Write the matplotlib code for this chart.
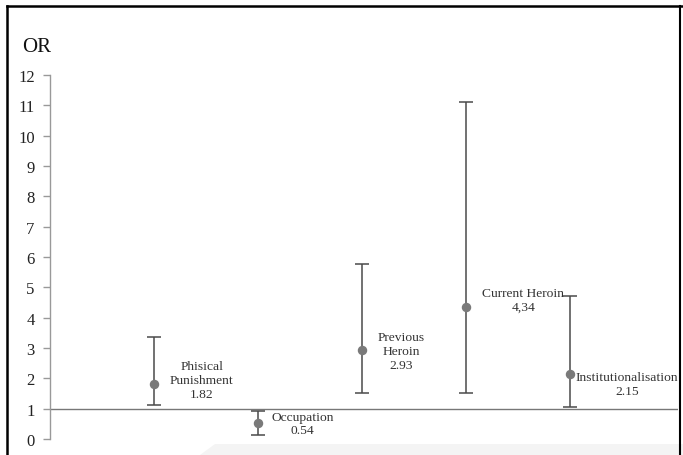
import matplotlib.pyplot as plt
from matplotlib.patches import Polygon

# Odds ratios with 95% CI
factors = ["Phisical\nPunishment", "Occupation", "Previous\nHeroin", "Current Heroin", "Institutionalisation"]
value_labels = ["1.82", "0.54", "2.93", "4,34", "2.15"]
odds = [1.82, 0.54, 2.93, 4.34, 2.15]
ci_low = [1.12, 0.14, 1.53, 1.53, 1.07]
ci_high = [3.36, 0.92, 5.77, 11.12, 4.70]

# label placement (offset from point, data units)
label_dx = [0.46, 0.43, 0.38, 0.55, 0.55]
label_y = [1.95, 0.51, 2.90, 4.59, 1.82]

plt.rcParams['font.family'] = ['Liberation Serif', 'DejaVu Serif']

fig = plt.figure(figsize=(6.83, 4.56), dpi=100)

# page border and greyish bottom strip
fig.patches.append(Polygon([[200 / 683, 0], [1, 0], [1, 11 / 456], [215 / 683, 11 / 456]],
                           closed=True, transform=fig.transFigure, facecolor='#f4f4f4', edgecolor='none'))
fig.lines.append(plt.Line2D([7 / 683, 7 / 683], [0, 449 / 456], transform=fig.transFigure, color='black', lw=1.8))
fig.lines.append(plt.Line2D([7 / 683, 1], [449 / 456, 449 / 456], transform=fig.transFigure, color='black', lw=1.8))
fig.lines.append(plt.Line2D([680 / 683, 680 / 683], [0, 449 / 456], transform=fig.transFigure, color='black', lw=1.5))

ax = fig.add_axes([50 / 683, 16 / 456, 628 / 683, 364 / 456])
ax.patch.set_visible(False)

x = list(range(1, len(odds) + 1))
yerr = [[o - l for o, l in zip(odds, ci_low)], [h - o for o, h in zip(odds, ci_high)]]
ax.errorbar(x, odds, yerr=yerr, fmt='o', color='#7a7a7a', ms=5.8, ecolor='#4a4a4a',
            elinewidth=1.1, capsize=5, capthick=1.1, zorder=3)

for xi, name, vl, dx, ly in zip(x, factors, value_labels, label_dx, label_y):
    ax.text(xi + dx, ly, name + "\n" + vl, ha='center', va='center', fontsize=9.7,
            color='#333333', linespacing=1.2)

ax.axhline(1, color='#777777', lw=1.0, zorder=1)

ax.set_xlim(0, 628 / 104)
ax.set_ylim(0, 12)
ax.set_yticks(range(0, 13))
ax.set_xticks([])
for s in ['top', 'right', 'bottom']:
    ax.spines[s].set_visible(False)
ax.spines['left'].set_color('#999999')
ax.spines['left'].set_linewidth(1.0)
ax.tick_params(axis='y', direction='out', length=5, width=1.0, color='#999999',
               labelsize=12, labelcolor='#222222', pad=6)

fig.text(22 / 683, 1 - 47 / 456, "OR", fontsize=15, ha='left', va='center', color='#111111')

fig.savefig("out.png", dpi=100)
